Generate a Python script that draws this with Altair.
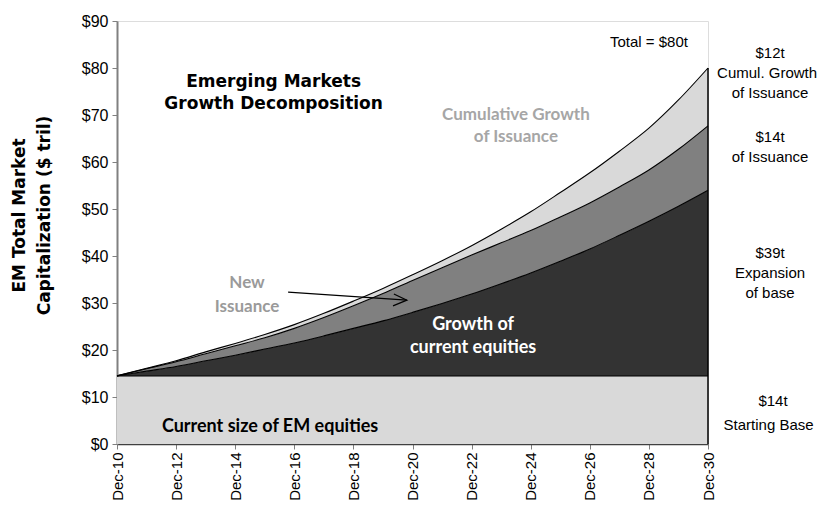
import altair as alt
import pandas as pd

# ---------------- data ----------------
years = list(range(2010, 2031))
base_size = [14.5] * 21  # current size of EM equities ($ tril)
growth_current = [0, 1.0, 2.0, 3.2, 4.4, 5.7, 7.0, 8.5, 10.1, 11.7, 13.5,
                  15.4, 17.4, 19.6, 21.9, 24.4, 27.0, 29.9, 32.9, 36.1, 39.5]
new_issuance = [0, 0.5, 1.0, 1.5, 2.0, 2.4, 3.1, 3.9, 4.8, 5.8, 6.8,
                7.6, 8.3, 8.7, 9.0, 9.4, 9.8, 10.3, 10.9, 12.1, 13.7]
cum_growth_issuance = [0, 0.1, 0.2, 0.4, 0.5, 0.7, 0.8, 0.9, 1.0, 1.1, 1.2,
                       1.5, 2.0, 2.9, 4.0, 5.2, 6.4, 7.6, 8.9, 10.5, 12.3]

layer_names = ["base", "growth", "issuance", "cumulative"]
layer_colors = ["#d9d9d9", "#333333", "#808080", "#d9d9d9"]

y_ticks = [0, 10, 20, 30, 40, 50, 60, 70, 80, 90]

# annotation texts (x in years, y in $ tril)
right_text = ["Total = $80t", "$12t", "Cumul. Growth", "of Issuance", "$14t", "of Issuance",
              "$39t", "Expansion", "of base", "$14t", "Starting Base"]
right_x = [2028.0, 2032.1, 2032.0, 2032.1, 2032.1, 2032.1,
           2032.1, 2032.1, 2032.1, 2032.2, 2032.05]
right_y = [85.5, 83.2, 78.9, 74.7, 65.3, 61.1, 40.6, 36.4, 32.1, 9.1, 4.0]

title_text = ["Emerging Markets", "Growth Decomposition"]
title_x = [2015.3, 2015.3]
title_y = [77.0, 72.3]

label_text = ["Current size of EM equities", "Growth of", "current equities",
              "New", "Issuance", "Cumulative Growth", "of Issuance"]
label_x = [2015.18, 2022.05, 2022.05, 2014.4, 2014.4, 2023.5, 2023.5]
label_y = [3.6, 25.3, 20.4, 34.3, 29.1, 70.0, 65.3]
label_color = ["#000000", "#ffffff", "#ffffff", "#9a9a9a", "#9a9a9a", "#a6a6a6", "#a6a6a6"]
label_size = [18, 18, 18, 17, 17, 17, 17]

arrow_x = [2015.79, 2019.81, 2019.37, 2019.81, 2019.34]
arrow_y = [32.3, 30.6, 31.9, 30.6, 29.4]
arrow_part = ["shaft", "shaft", "head", "head", "head"]

# ---------------- build tables ----------------
rows = []
for i, yr in enumerate(years):
    b = base_size[i]
    g = b + growth_current[i]
    n = g + new_issuance[i]
    c = n + cum_growth_issuance[i]
    for name, lo, hi in zip(layer_names, [0, b, g, n], [b, g, n, c]):
        rows.append({"year": yr, "layer": name, "lo": lo, "hi": hi})
df = pd.DataFrame(rows)

end_df = pd.DataFrame({"year": [years[-1]], "lo": [0],
                       "hi": [base_size[-1] + growth_current[-1] + new_issuance[-1] + cum_growth_issuance[-1]]})

right_df = pd.DataFrame({"text": right_text, "x": right_x, "y": right_y})
title_df = pd.DataFrame({"text": title_text, "x": title_x, "y": title_y})
label_df = pd.DataFrame({"text": label_text, "x": label_x, "y": label_y,
                         "color": label_color, "size": label_size})
arrow_df = pd.DataFrame({"x": arrow_x, "y": arrow_y, "part": arrow_part,
                         "order": list(range(len(arrow_x)))})

# ---------------- chart ----------------
x_scale = alt.Scale(domain=[2010, 2030], nice=False, zero=False)
y_scale = alt.Scale(domain=[0, 90], nice=False)

x_axis = alt.Axis(values=years,
                  labelExpr="datum.value % 2 == 0 ? 'Dec-' + substring(toString(datum.value), 2, 4) : ''",
                  labelAngle=-90, labelFont="Liberation Sans", labelFontSize=15, labelColor="black",
                  labelPadding=3, labelOverlap=False, labelFlush=False, labelBound=False,
                  tickColor="#808080", tickSize=5, domainColor="#404040", domainWidth=1.5,
                  grid=False, title=None)
y_axis = alt.Axis(values=y_ticks, labelExpr="'$' + datum.value",
                  labelFont="Liberation Sans", labelFontSize=16, labelColor="black",
                  labelPadding=4, tickColor="#808080", tickSize=5,
                  domainColor="#808080", domainWidth=2, grid=False,
                  title=["EM Total Market", "Capitalization ($ tril)"],
                  titleFont="DejaVu Sans", titleFontWeight="bold", titleFontSize=17,
                  titleColor="black", titleLineHeight=25, titleX=-98, titleY=194,
                  titleAlign="center", titleBaseline="middle")

areas = alt.Chart(df).mark_area(interpolate="monotone").encode(
    x=alt.X("year:Q", scale=x_scale, axis=x_axis),
    y=alt.Y("lo:Q", scale=y_scale, axis=y_axis),
    y2="hi:Q",
    color=alt.Color("layer:N", scale=alt.Scale(domain=layer_names, range=layer_colors), legend=None),
)

lines = alt.Chart(df).mark_line(interpolate="monotone", color="black", strokeWidth=1.1).encode(
    x="year:Q", y="hi:Q", detail="layer:N")

end_rule = alt.Chart(end_df).mark_rule(color="black", strokeWidth=1.5).encode(
    x="year:Q", y="lo:Q", y2="hi:Q")

right_texts = alt.Chart(right_df).mark_text(font="Liberation Sans", fontSize=15, color="black",
                                            align="center", baseline="middle").encode(
    x="x:Q", y="y:Q", text="text:N")

title_texts = alt.Chart(title_df).mark_text(font="DejaVu Sans", fontWeight="bold", fontSize=17,
                                            color="black", align="center", baseline="middle").encode(
    x="x:Q", y="y:Q", text="text:N")

label_texts = alt.Chart(label_df).mark_text(font="Lato", fontWeight="bold",
                                            align="center", baseline="middle").encode(
    x="x:Q", y="y:Q", text="text:N", color=alt.Color("color:N", scale=None),
    size=alt.Size("size:Q", scale=None))

arrow = alt.Chart(arrow_df).mark_line(color="black", strokeWidth=1.2).encode(
    x="x:Q", y="y:Q", detail="part:N", order="order:Q")

chart = alt.layer(areas, lines, end_rule, arrow, label_texts, title_texts, right_texts).properties(
    width=591, height=423,
    padding={"left": 109, "top": 13, "right": 116, "bottom": 58},
    autosize=alt.AutoSizeParams(type="none"),
).configure_view(stroke=None).configure(background="white")

chart.save("out.html", embed_options={"renderer": "svg", "actions": False})
